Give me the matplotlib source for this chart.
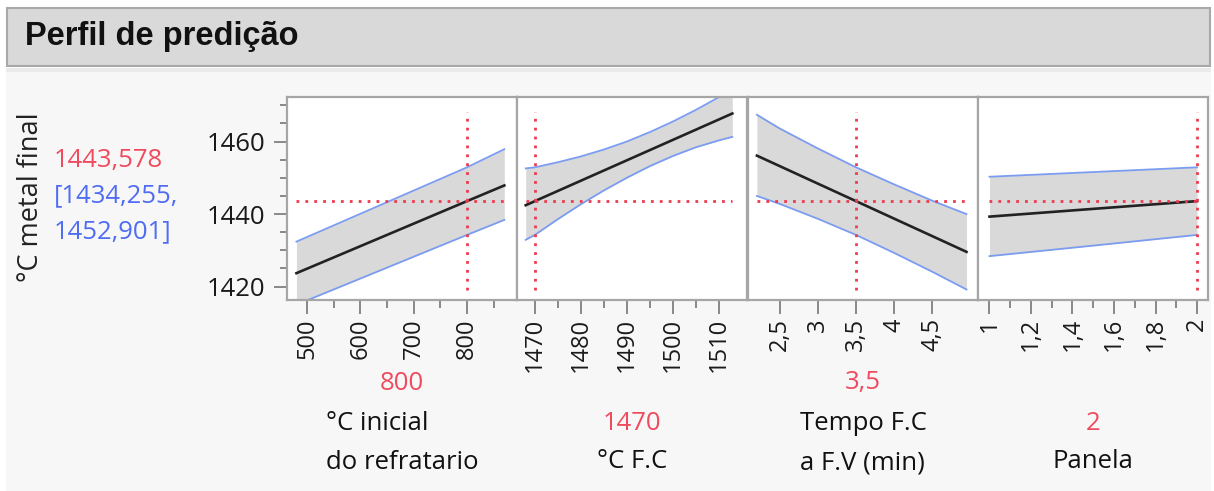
import matplotlib.pyplot as plt
from matplotlib.patches import Rectangle
from matplotlib.ticker import FixedLocator, FuncFormatter

W, H = 1214, 491

# response at the current factor settings
pred_value = 1443.578
ci_low, ci_high = 1434.255, 1452.901
response_name = "°C metal final"

# factor 1: °C inicial do refratario
x1 = [480, 800, 870]
pred1 = [1423.7, 1443.578, 1447.9]
low1 = [1415.0, 1434.255, 1438.4]
high1 = [1432.4, 1452.901, 1457.9]

# factor 2: °C F.C
x2 = [1468, 1470, 1475, 1480, 1485, 1490, 1495, 1500, 1505, 1510, 1513]
pred2 = [1442.45, 1443.578, 1446.39, 1449.20, 1452.01, 1454.82, 1457.63, 1460.44, 1463.25, 1466.06, 1467.75]
low2 = [1432.9, 1434.255, 1438.6, 1442.7, 1446.5, 1450.0, 1453.2, 1456.0, 1458.4, 1460.3, 1461.3]
high2 = [1452.6, 1452.901, 1454.3, 1455.9, 1457.8, 1460.0, 1462.6, 1465.5, 1468.7, 1472.2, 1474.4]

# factor 3: Tempo F.C a F.V (min)
x3 = [2.2, 2.5, 3.0, 3.5, 4.0, 4.5, 4.95]
pred3 = [1456.12, 1453.23, 1448.40, 1443.578, 1438.75, 1433.93, 1429.58]
low3 = [1445.0, 1442.8, 1438.7, 1434.255, 1429.3, 1424.1, 1419.2]
high3 = [1467.4, 1463.6, 1458.1, 1452.901, 1448.2, 1443.7, 1440.0]

# factor 4: Panela
x4 = [1, 1.5, 2]
pred4 = [1439.3, 1441.44, 1443.578]
low4 = [1428.4, 1431.3, 1434.255]
high4 = [1450.3, 1451.6, 1452.901]

factor_names = ["°C inicial\ndo refratario", "°C F.C", "Tempo F.C\na F.V (min)", "Panela"]
current_values = [800, 1470, 3.5, 2]
current_labels = ["800", "1470", "3,5", "2"]
major_ticks = [[500, 600, 700, 800],
               [1470, 1480, 1490, 1500, 1510],
               [2.5, 3, 3.5, 4, 4.5],
               [1, 1.2, 1.4, 1.6, 1.8, 2]]
minor_ticks = [[550, 650, 750, 850],
               [1475, 1485, 1495, 1505],
               [],
               [1.1, 1.3, 1.5, 1.7, 1.9]]
x_limits = [(462.3, 893.8), (1466.1, 1516.2), (2.083, 5.101), (0.9446, 2.053)]
y_limits = (1416.3, 1472.3)
y_major = [1420, 1440, 1460]
y_minor = [1425, 1430, 1435, 1445, 1450, 1455, 1465, 1470]
vline_span = (1419.1, 1468.3)

curves = [(x1, pred1, low1, high1), (x2, pred2, low2, high2),
          (x3, pred3, low3, high3), (x4, pred4, low4, high4)]

RED = "#ee3a4e"
RED_TXT = "#f04a5e"
BLUE_TXT = "#4f6cf2"
BAND_EDGE = "#7b9cf0"
FONT = "Open Sans"
TXT = 18.5
DOTS = (0, (1.0, 2.2))

plt.rcParams["font.family"] = [FONT, "DejaVu Sans"]

fig = plt.figure(figsize=(W / 100, H / 100), dpi=100)
fig.patch.set_facecolor("white")


def fx(px):
    return px / W


def fy(py):
    return 1 - py / H


# light panel background and the header bar
fig.patches.append(Rectangle((fx(6), fy(491)), fx(1205), 423 / H, transform=fig.transFigure,
                             facecolor="#f7f7f7", edgecolor="none", zorder=-5))
fig.patches.append(Rectangle((fx(6), fy(72)), fx(1205), 4 / H, transform=fig.transFigure,
                             facecolor="#ebebeb", edgecolor="none", zorder=-4))
fig.patches.append(Rectangle((fx(7), fy(66)), fx(1203), 58 / H, transform=fig.transFigure,
                             facecolor="#d9d9d9", edgecolor="#a8a8a8", linewidth=1.5, zorder=-3))
fig.text(fx(25), fy(37), "Perfil de predição", family="Liberation Sans", weight="bold",
         fontsize=23.5, va="center", ha="left", color="#111111")

# response readout on the left
fig.text(fx(31), fy(197), response_name, rotation=90, fontsize=19.5, ha="center", va="center",
         color="#222222")
fig.text(fx(54), fy(160), f"{pred_value:.3f}".replace(".", ","), fontsize=TXT,
         color=RED_TXT, ha="left", va="center")
fig.text(fx(54), fy(196), "[" + f"{ci_low:.3f}".replace(".", ",") + ",", fontsize=TXT,
         color=BLUE_TXT, ha="left", va="center")
fig.text(fx(54), fy(232), f"{ci_high:.3f}".replace(".", ",") + "]", fontsize=TXT,
         color=BLUE_TXT, ha="left", va="center")

panel_left = [287, 517, 748, 978]
panel_w = 230
top, bottom = 97, 300

comma = FuncFormatter(lambda v, p: (f"{v:g}").replace(".", ","))

for i, (xs, pr, lo, hi) in enumerate(curves):
    ax = fig.add_axes([fx(panel_left[i]), fy(bottom), panel_w / W, (bottom - top) / H])
    ax.set_zorder(2)
    ax.set_facecolor("white")
    ax.fill_between(xs, lo, hi, color="#d9d9d9", linewidth=0, zorder=1)
    ax.plot(xs, lo, color=BAND_EDGE, lw=1.3, zorder=2)
    ax.plot(xs, hi, color=BAND_EDGE, lw=1.3, zorder=2)
    ax.plot(xs, pr, color="#222222", lw=1.9, zorder=3)
    ax.hlines(pred_value, xs[0], xs[-1], color=RED, lw=2.0, linestyles=DOTS, zorder=4)
    ax.vlines(current_values[i], *vline_span, color=RED, lw=2.0, linestyles=DOTS, zorder=4)

    ax.set_xlim(*x_limits[i])
    ax.set_ylim(*y_limits)
    ax.xaxis.set_major_locator(FixedLocator(major_ticks[i]))
    ax.xaxis.set_minor_locator(FixedLocator(minor_ticks[i]))
    ax.xaxis.set_major_formatter(comma)
    ax.tick_params(axis="x", which="major", length=10, width=1.3, color="#808080",
                   labelrotation=90, labelsize=17, labelcolor="#1a1a1a", pad=3)
    ax.tick_params(axis="x", which="minor", length=5.5, width=1.3, color="#808080")

    ax.yaxis.set_major_locator(FixedLocator(y_major))
    ax.yaxis.set_minor_locator(FixedLocator(y_minor))
    if i == 0:
        ax.tick_params(axis="y", which="major", length=9.5, width=1.3, color="#808080",
                       labelsize=TXT, labelcolor="#1a1a1a", pad=6)
        ax.tick_params(axis="y", which="minor", length=5, width=1.3, color="#808080")
    else:
        ax.tick_params(axis="y", which="both", left=False, labelleft=False)

    for s in ax.spines.values():
        s.set_color("#a6a6a6")
        s.set_linewidth(1.6)

    cx = fx(panel_left[i] + panel_w / 2)
    two_lines = "\n" in factor_names[i]
    fig.text(cx, fy(383 if two_lines else 423), current_labels[i], fontsize=TXT,
             color=RED_TXT, ha="center", va="center")
    fig.text(cx, fy(443 if two_lines else 462), factor_names[i], fontsize=TXT,
             color="#111111", ha="center", va="center", multialignment="left",
             linespacing=1.75)

fig.savefig("out.png", dpi=100, facecolor=fig.get_facecolor())
